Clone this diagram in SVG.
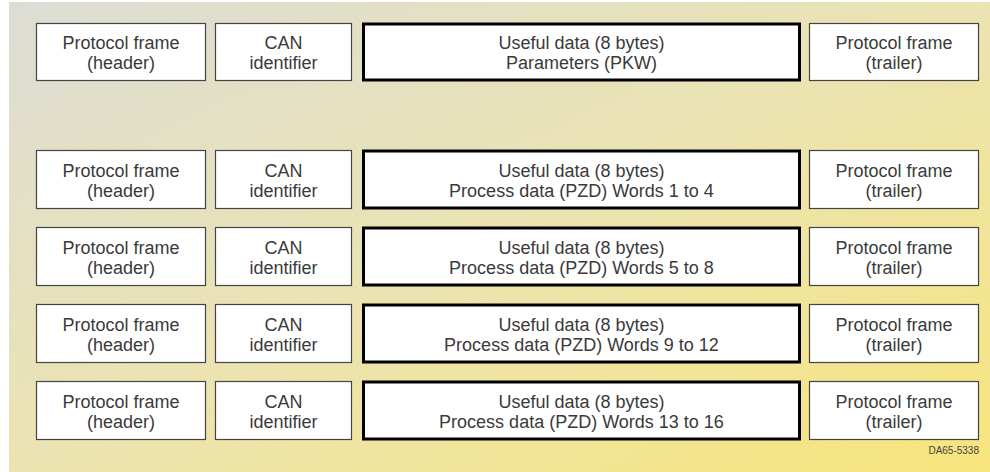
<svg xmlns="http://www.w3.org/2000/svg" width="990" height="472" viewBox="0 0 990 472">
<defs>
<linearGradient id="bg" x1="0" y1="0" x2="1" y2="1">
<stop offset="0" stop-color="#dcdcd4"/>
<stop offset="0.5" stop-color="#ebe3b0"/>
<stop offset="1" stop-color="#f7e57a"/>
</linearGradient>
<pattern id="hatch" width="6" height="6" patternUnits="userSpaceOnUse" patternTransform="rotate(-40)">
<line x1="0" y1="0" x2="0" y2="6" stroke="#ffffff" stroke-opacity="0.18" stroke-width="1"/>
</pattern>
</defs>
<style>
.thin{fill:#fff;stroke:#444;stroke-width:1.2}
.thick{fill:#fff;stroke:#000;stroke-width:3}
text{font-family:"Liberation Sans",Arial,Helvetica,sans-serif;font-size:18px;fill:#3a3a3a;text-anchor:middle}
.code{font-size:10px;text-anchor:end;fill:#444}
</style>
<rect x="9" y="2" width="981" height="470" fill="url(#bg)"/>
<rect x="9" y="2" width="981" height="470" fill="url(#hatch)"/>

<g id="r1-header"><rect class="thin" x="36.5" y="23.5" width="169" height="57"/><text x="121" y="49">Protocol frame</text><text x="121" y="69">(header)</text></g>
<g id="r1-can"><rect class="thin" x="215.5" y="23.5" width="136" height="57"/><text x="283.5" y="49">CAN</text><text x="283.5" y="69">identifier</text></g>
<g id="r1-data"><rect class="thick" x="363.5" y="24" width="436" height="56"/><text x="581.5" y="49">Useful data (8 bytes)</text><text x="581.5" y="69">Parameters (PKW)</text></g>
<g id="r1-trailer"><rect class="thin" x="809.5" y="23.5" width="169" height="57"/><text x="894" y="49">Protocol frame</text><text x="894" y="69">(trailer)</text></g>

<g id="r2-header"><rect class="thin" x="36.5" y="150.5" width="169" height="58"/><text x="121" y="177">Protocol frame</text><text x="121" y="197">(header)</text></g>
<g id="r2-can"><rect class="thin" x="215.5" y="150.5" width="136" height="58"/><text x="283.5" y="177">CAN</text><text x="283.5" y="197">identifier</text></g>
<g id="r2-data"><rect class="thick" x="363.5" y="151" width="436" height="57"/><text x="581.5" y="177">Useful data (8 bytes)</text><text x="581.5" y="197">Process data (PZD) Words 1 to 4</text></g>
<g id="r2-trailer"><rect class="thin" x="809.5" y="150.5" width="169" height="58"/><text x="894" y="177">Protocol frame</text><text x="894" y="197">(trailer)</text></g>

<g id="r3-header"><rect class="thin" x="36.5" y="227.5" width="169" height="58"/><text x="121" y="254">Protocol frame</text><text x="121" y="274">(header)</text></g>
<g id="r3-can"><rect class="thin" x="215.5" y="227.5" width="136" height="58"/><text x="283.5" y="254">CAN</text><text x="283.5" y="274">identifier</text></g>
<g id="r3-data"><rect class="thick" x="363.5" y="228" width="436" height="57"/><text x="581.5" y="254">Useful data (8 bytes)</text><text x="581.5" y="274">Process data (PZD) Words 5 to 8</text></g>
<g id="r3-trailer"><rect class="thin" x="809.5" y="227.5" width="169" height="58"/><text x="894" y="254">Protocol frame</text><text x="894" y="274">(trailer)</text></g>

<g id="r4-header"><rect class="thin" x="36.5" y="304.5" width="169" height="58"/><text x="121" y="331">Protocol frame</text><text x="121" y="351">(header)</text></g>
<g id="r4-can"><rect class="thin" x="215.5" y="304.5" width="136" height="58"/><text x="283.5" y="331">CAN</text><text x="283.5" y="351">identifier</text></g>
<g id="r4-data"><rect class="thick" x="363.5" y="305" width="436" height="57"/><text x="581.5" y="331">Useful data (8 bytes)</text><text x="581.5" y="351">Process data (PZD) Words 9 to 12</text></g>
<g id="r4-trailer"><rect class="thin" x="809.5" y="304.5" width="169" height="58"/><text x="894" y="331">Protocol frame</text><text x="894" y="351">(trailer)</text></g>

<g id="r5-header"><rect class="thin" x="36.5" y="381.5" width="169" height="58"/><text x="121" y="408">Protocol frame</text><text x="121" y="428">(header)</text></g>
<g id="r5-can"><rect class="thin" x="215.5" y="381.5" width="136" height="58"/><text x="283.5" y="408">CAN</text><text x="283.5" y="428">identifier</text></g>
<g id="r5-data"><rect class="thick" x="363.5" y="382" width="436" height="57"/><text x="581.5" y="408">Useful data (8 bytes)</text><text x="581.5" y="428">Process data (PZD) Words 13 to 16</text></g>
<g id="r5-trailer"><rect class="thin" x="809.5" y="381.5" width="169" height="58"/><text x="894" y="408">Protocol frame</text><text x="894" y="428">(trailer)</text></g>

<text class="code" x="979" y="454">DA65-5338</text>
</svg>
